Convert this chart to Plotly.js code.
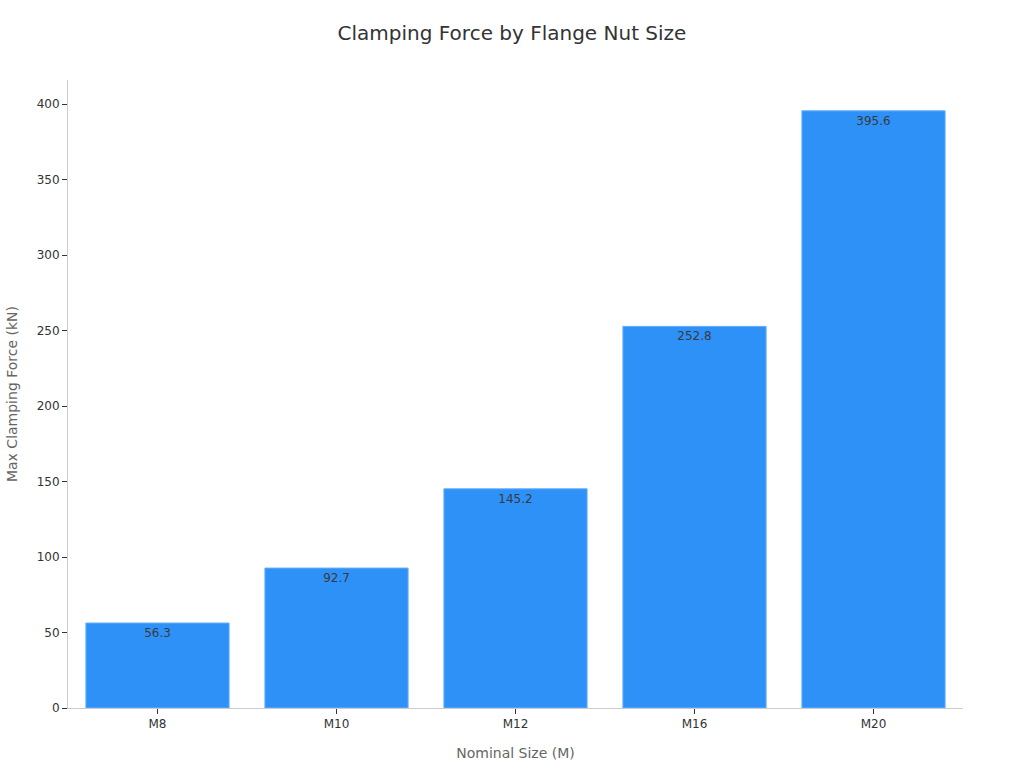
<!DOCTYPE html>
<html>
<head>
<meta charset="utf-8">
<script src="https://cdn.plot.ly/plotly-3.0.1.min.js"></script>
<style>
  html, body { margin: 0; padding: 0; background: #fff; }
  #myDiv { width: 1024px; height: 768px; }
</style>
</head>
<body>
<div id="myDiv"></div>
<script>
var sizes = ['M8', 'M10', 'M12', 'M16', 'M20'],
    clampForce = [56.3, 92.7, 145.2, 252.8, 395.6];

var data = [{
  type: 'bar',
  x: sizes,
  y: clampForce,
  text: clampForce.map(function(v){ return v.toFixed(1); }),
  textposition: 'inside',
  insidetextanchor: 'end',
  textfont: {family: 'DejaVu Sans', size: 12, color: '#3a3a3a'},
  marker: {color: '#2E91F8', line: {color: '#66B0FA', width: 1}},
  hoverinfo: 'x+y'
}];

var layout = {
  width: 1024,
  height: 768,
  font: {family: 'DejaVu Sans', color: '#333333', size: 12},
  title: {text: 'Clamping Force by Flange Nut Size', font: {size: 20, color: '#333333'},
          x: 0.5, y: 0.957, yanchor: 'middle'},
  paper_bgcolor: '#ffffff',
  plot_bgcolor: '#ffffff',
  bargap: 0.2,
  margin: {l: 68, r: 61, t: 80, b: 60},
  xaxis: {
    title: {text: 'Nominal Size (M)', font: {size: 14, color: '#666666'}, standoff: 17},
    showline: true, linecolor: '#cccccc', linewidth: 1,
    ticks: 'outside', ticklen: 5, tickcolor: '#333333',
    showgrid: false, zeroline: false
  },
  yaxis: {
    title: {text: 'Max Clamping Force (kN)', font: {size: 14, color: '#666666'}, standoff: 15},
    showline: true, linecolor: '#cccccc', linewidth: 1,
    ticks: 'outside', ticklen: 5, tickcolor: '#333333',
    showgrid: false, zeroline: false,
    dtick: 50, range: [0, 416]
  },
  showlegend: false
};

Plotly.newPlot('myDiv', data, layout, {displayModeBar: false});
</script>
</body>
</html>
